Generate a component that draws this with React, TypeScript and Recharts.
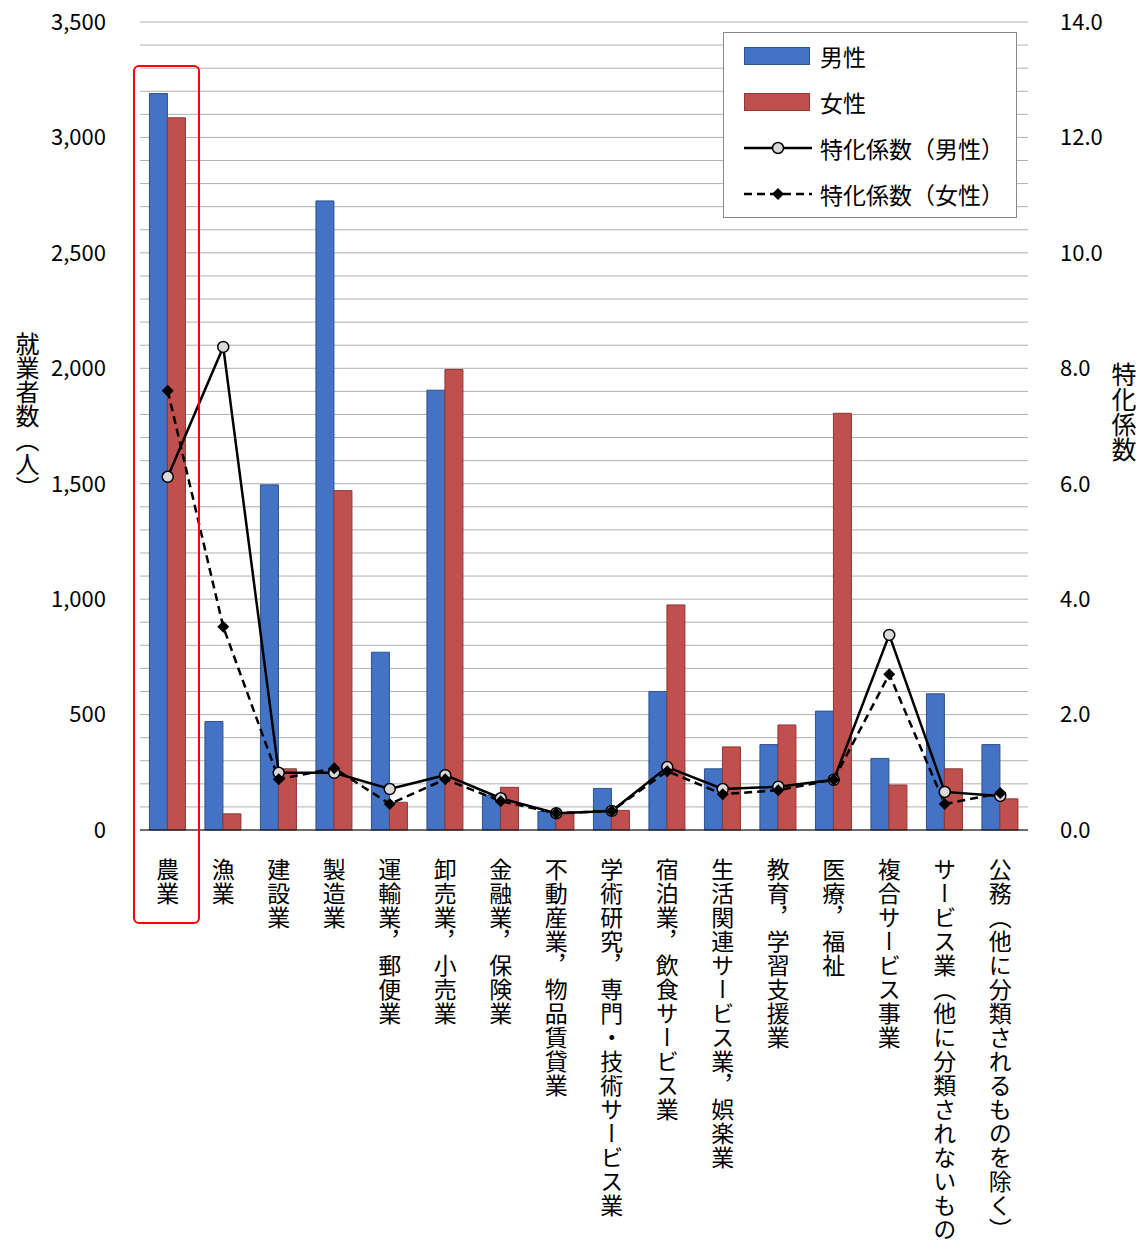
import React from 'react';
import { ComposedChart, Bar, Line, XAxis, YAxis, CartesianGrid } from 'recharts';

const categories = ['農業','漁業','建設業','製造業','運輸業，郵便業','卸売業，小売業','金融業，保険業','不動産業，物品賃貸業','学術研究，専門・技術サービス業','宿泊業，飲食サービス業','生活関連サービス業，娯楽業','教育，学習支援業','医療，福祉','複合サービス事業','サービス業（他に分類されないもの）','公務（他に分類されるものを除く）'];
const male = [3190,470,1495,2725,770,1905,150,80,180,600,265,370,515,310,590,370];
const female = [3085,70,265,1470,120,1995,185,70,85,975,360,455,1805,195,265,135];
const maleCoef = [6.12,8.37,0.99,0.99,0.71,0.95,0.55,0.29,0.33,1.09,0.71,0.75,0.87,3.38,0.66,0.59];
const femaleCoef = [7.61,3.52,0.88,1.07,0.45,0.88,0.5,0.29,0.33,1.02,0.62,0.69,0.87,2.7,0.45,0.64];
const leftTicks = [0,500,1000,1500,2000,2500,3000,3500];
const rightTicks = [0,2,4,6,8,10,12,14];
const gridTicks = Array.from({ length: 36 }, (_, i) => i * 100);

const data = categories.map((c, i) => ({ c, male: male[i], female: female[i], mc: maleCoef[i], fc: femaleCoef[i] }));
const FONT = '"Noto Sans CJK JP", sans-serif';

const XTick = (props: any) => {
  const { x, y, payload } = props;
  return (
    <text x={x} y={y + 20} fill="#000" fontSize={23} fontFamily={FONT} letterSpacing={1}
      style={{ writingMode: 'vertical-rl' as any }} textAnchor="start">{payload.value}</text>
  );
};

const Diamond = (props: any) => {
  const { cx, cy } = props;
  if (cx == null || cy == null) return null;
  return <path d={`M${cx},${cy - 6}L${cx + 6},${cy}L${cx},${cy + 6}L${cx - 6},${cy}Z`} fill="#000" />;
};
const Circ = (props: any) => {
  const { cx, cy } = props;
  if (cx == null || cy == null) return null;
  return <circle cx={cx} cy={cy} r={5.5} fill="#d9d9d9" stroke="#000" strokeWidth={1.5} />;
};

const gridGen = (p: any) => {
  const ax = p && p.yAxis;
  if (ax && typeof ax.scale === 'function') return gridTicks.map((t) => ax.scale(t));
  const off = p.offset;
  return gridTicks.map((t) => off.top + off.height * (1 - t / 3500));
};

export default function App() {
  const lg = { display: 'flex', alignItems: 'center', height: 46, fontSize: 23, fontFamily: FONT } as const;
  return (
    <div style={{ position: 'absolute', left: 0, top: 0, width: 1145, height: 1242, background: '#fff' }}>
      <ComposedChart width={1145} height={1242} data={data} margin={{ top: 22, right: 0, left: 0, bottom: 0 }}
        barCategoryGap="17%" barGap={0}>
        <CartesianGrid yAxisId="l" vertical={false} stroke="#b0b0b0" horizontalCoordinatesGenerator={gridGen} />
        <XAxis dataKey="c" height={412} interval={0} tick={<XTick />} tickLine={false} axisLine={{ stroke: '#000' }} />
        <YAxis yAxisId="l" width={140} domain={[0, 3500]} ticks={leftTicks} axisLine={false} tickLine={false}
          tickFormatter={(v: number) => v.toLocaleString('en-US')} tick={{ fontSize: 22, fill: '#000', fontFamily: FONT }} tickMargin={28} />
        <YAxis yAxisId="r" orientation="right" width={117} domain={[0, 14]} ticks={rightTicks} axisLine={false} tickLine={false}
          tickFormatter={(v: number) => v.toFixed(1)} tick={{ fontSize: 22, fill: '#000', fontFamily: FONT }} tickMargin={26} />
        <Bar yAxisId="l" dataKey="male" fill="#4472C4" stroke="#2F528F" isAnimationActive={false} />
        <Bar yAxisId="l" dataKey="female" fill="#C0504D" stroke="#8C3836" isAnimationActive={false} />
        <Line yAxisId="r" dataKey="mc" stroke="#000" strokeWidth={2.5} dot={<Circ />} isAnimationActive={false} />
        <Line yAxisId="r" dataKey="fc" stroke="#000" strokeWidth={2.5} strokeDasharray="8 5" dot={<Diamond />} isAnimationActive={false} />
      </ComposedChart>
      <div style={{ position: 'absolute', left: 10, top: 332, fontSize: 24, fontFamily: FONT, writingMode: 'vertical-rl' }}>就業者数（人）</div>
      <div style={{ position: 'absolute', left: 1106, top: 362, fontSize: 25, fontFamily: FONT, writingMode: 'vertical-rl' }}>特化係数</div>
      <div style={{ position: 'absolute', left: 133, top: 65, width: 67, height: 859, border: '2px solid #FF0000', borderRadius: 6, boxSizing: 'border-box' }} />
      <div style={{ position: 'absolute', left: 723, top: 32, width: 294, height: 186, border: '1.5px solid #888', background: '#fff', boxSizing: 'border-box', padding: '0 0 0 20px' }}>
        <div style={lg}><span style={{ display: 'inline-block', width: 64, height: 16, background: '#4472C4', border: '1px solid #2F528F', marginRight: 10 }} />男性</div>
        <div style={lg}><span style={{ display: 'inline-block', width: 64, height: 16, background: '#C0504D', border: '1px solid #8C3836', marginRight: 10 }} />女性</div>
        <div style={lg}><svg width={70} height={20} style={{ marginRight: 6 }}><line x1={0} y1={10} x2={68} y2={10} stroke="#000" strokeWidth={2.5} /><circle cx={34} cy={10} r={5.5} fill="#d9d9d9" stroke="#000" strokeWidth={1.5} /></svg>特化係数（男性）</div>
        <div style={lg}><svg width={70} height={20} style={{ marginRight: 6 }}><line x1={0} y1={10} x2={68} y2={10} stroke="#000" strokeWidth={2.5} strokeDasharray="8 5" /><path d="M34,4L40,10L34,16L28,10Z" fill="#000" /></svg>特化係数（女性）</div>
      </div>
    </div>
  );
}
